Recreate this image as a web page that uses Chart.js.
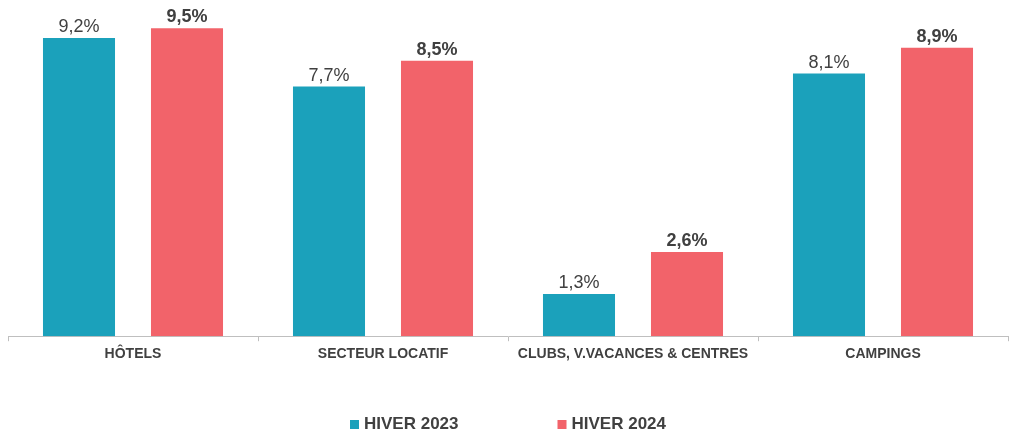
<!DOCTYPE html>
<html>
<head>
<meta charset="utf-8">
<script src="https://cdn.jsdelivr.net/npm/chart.js@4/dist/chart.umd.min.js"></script>
<style>
  html, body { margin: 0; padding: 0; background: #fff; }
  #wrap { width: 1009px; height: 435px; }
</style>
</head>
<body>
<div id="wrap"><canvas id="c"></canvas></div>
<script>
const categories = ["HÔTELS", "SECTEUR LOCATIF", "CLUBS, V.VACANCES & CENTRES", "CAMPINGS"];
const hiver2023 = [9.2, 7.7, 1.3, 8.1];
const hiver2024 = [9.5, 8.5, 2.6, 8.9];
const seriesNames = ["HIVER 2023", "HIVER 2024"];

const TEAL = "#1ba1bb";
const RED = "#f2636a";
const TEXT = "#404040";
const FONT = "'Liberation Sans', Arial, sans-serif";

// value labels above the bars (2024 in bold)
const valueLabels = {
  id: "valueLabels",
  afterDatasetsDraw(chart) {
    const ctx = chart.ctx;
    ctx.save();
    ctx.fillStyle = TEXT;
    ctx.textAlign = "center";
    ctx.textBaseline = "bottom";
    chart.data.datasets.forEach((ds, i) => {
      const meta = chart.getDatasetMeta(i);
      ctx.font = (i === 1 ? "bold " : "") + "18px " + FONT;
      meta.data.forEach((bar, j) => {
        const txt = ds.data[j].toFixed(1).replace(".", ",") + "%";
        ctx.fillText(txt, bar.x, bar.y - 2);
      });
    });
    ctx.restore();
  }
};

// legend drawn at the bottom with wide spacing
const bottomLegend = {
  id: "bottomLegend",
  afterDraw(chart) {
    const ctx = chart.ctx;
    const area = chart.chartArea;
    ctx.save();
    ctx.font = "bold 17px " + FONT;
    ctx.textBaseline = "middle";
    const box = 9, gapText = 5, gapItem = 99;
    const items = chart.data.datasets.map(ds => ({
      label: ds.label, color: ds.backgroundColor,
      w: box + gapText + ctx.measureText(ds.label).width
    }));
    const total = items.reduce((s, it) => s + it.w, 0) + gapItem * (items.length - 1);
    let x = (area.left + area.right) / 2 - total / 2;
    const y = 424.5;
    items.forEach(it => {
      ctx.fillStyle = it.color;
      ctx.fillRect(x, y - box / 2, box, box);
      ctx.fillStyle = TEXT;
      ctx.fillText(it.label, x + box + gapText, y);
      x += it.w + gapItem;
    });
    ctx.restore();
  }
};

new Chart(document.getElementById("c"), {
  type: "bar",
  data: {
    labels: categories,
    datasets: [
      { label: seriesNames[0], data: hiver2023, backgroundColor: TEAL },
      { label: seriesNames[1], data: hiver2024, backgroundColor: RED }
    ]
  },
  options: {
    responsive: true,
    maintainAspectRatio: false,
    animation: false,
    layout: { padding: { left: 8, right: 1, top: 12, bottom: 67 } },
    datasets: { bar: { categoryPercentage: 0.864, barPercentage: 0.667 } },
    plugins: {
      legend: { display: false },
      tooltip: { enabled: false }
    },
    scales: {
      x: {
        grid: {
          display: true,
          offset: true,
          drawOnChartArea: false,
          drawTicks: true,
          tickLength: 5,
          color: "#bfbfbf"
        },
        border: { display: true, color: "#bfbfbf" },
        ticks: {
          color: TEXT,
          font: { family: FONT, size: 14, weight: "bold" },
          padding: 5,
          maxRotation: 0,
          autoSkip: false
        }
      },
      y: {
        display: false,
        min: 0,
        max: 10
      }
    }
  },
  plugins: [valueLabels, bottomLegend]
});
</script>
</body>
</html>
